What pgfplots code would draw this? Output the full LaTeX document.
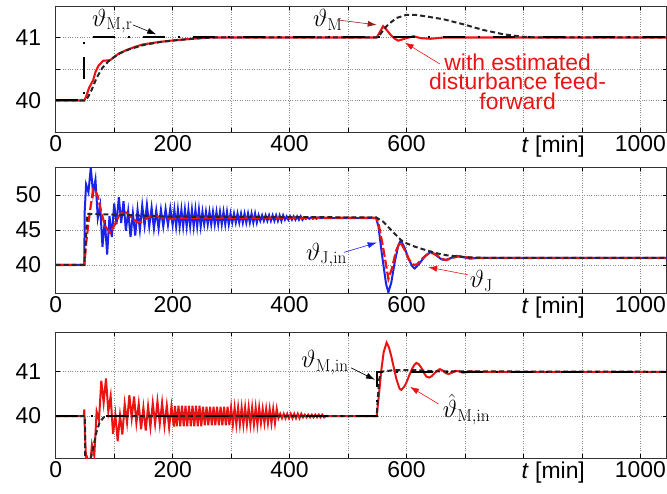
\documentclass[border=0pt]{standalone}
\usepackage[no-math]{fontspec}
\setmainfont{Liberation Sans}
\usepackage{pgfplots}
\pgfplotsset{compat=1.18}
\usetikzlibrary{arrows.meta}

\definecolor{myred}{RGB}{235,20,20}
\definecolor{myblue}{RGB}{25,35,235}
\definecolor{darkred}{RGB}{150,30,30}
\definecolor{gridgray}{RGB}{140,140,140}

\pgfplotsset{
  every axis/.append style={
    scale only axis, width=611bp, height=126bp,
    xmin=0, xmax=1045,
    xtick={0,100,...,1000},
    xticklabels={0,,200,,400,,600,,,,1000},
    extra x ticks={851}, extra x tick labels={\textit{t} [min]},
    extra x tick style={grid=none, major tick length=0pt},
    grid=major, major grid style={gridgray, dotted, line width=0.8bp},
    tick style={black, line width=0.6bp}, major tick length=4bp,
    axis line style={line width=0.8bp, black!80},
    tick label style={font=\fontsize{23}{26}\selectfont},
    /pgf/number format/assume math mode=true,
    yticklabel style={xshift=-11bp},
    anchor=south west,
  },
}
\tikzset{
  lab/.style={anchor=base west, inner sep=0pt, font=\fontsize{24}{28}\selectfont},
  arr/.style={line width=0.6bp, -{Latex[length=9bp,width=6bp]}},
  dashdot/.style={black, line width=2bp, dash pattern=on 22bp off 13bp on 2bp off 13bp},
  bdash/.style={black!85, line width=2bp, dash pattern=on 5bp off 3bp},
}

\begin{document}
\begin{tikzpicture}

% ---------------- top: theta_M ----------------
\begin{axis}[at={(0,326bp)}, ymin=39.5, ymax=41.5,
  ytick={40,40.5,41}, yticklabels={40,,41}]
\addplot[myred, line width=2.1bp] coordinates {
(0,40) (49,40) (52,40.06) (57,40.2) (64,40.32) (68,40.45) (73,40.55) (81,40.63) (93,40.64)
(107,40.74) (121,40.8) (135,40.85) (149,40.89) (178,40.93) (207,40.96) (235,40.98) (260,41)
(549,41) (554,41.08) (560,41.18) (566,41.12) (573,41.04) (580,40.98) (586,40.95) (593,40.97)
(600,40.99) (612,41.02) (624,40.99) (641,40.98) (664,41.0) (1045,41)};
\addplot[bdash] coordinates {
(0,40) (49,40) (55,40.05) (62,40.18) (70,40.36) (80,40.52) (90,40.62) (100,40.69) (110,40.75)
(125,40.81) (150,40.88) (180,40.93) (210,40.96) (240,40.985) (270,41) (549,41) (555,41.05)
(562,41.14) (569,41.21) (583,41.31) (600,41.36) (615,41.36) (630,41.34) (663,41.29) (697,41.21)
(731,41.12) (766,41.05) (800,41.01) (830,41) (1045,41)};
\addplot[dashdot] coordinates {(0,40) (49,40) (49,41) (1045,41)};
\node[lab] at (axis cs:62,41.18) {$\vartheta_{\mathrm{M,r}}$};
\draw[arr] (axis cs:132,41.2) -- (axis cs:172,41.05);
\node[lab] at (axis cs:440,41.17) {$\vartheta_{\mathrm{M}}$};
\draw[arr, darkred] (axis cs:481,41.28) -- (axis cs:549,41.2);
\draw[arr, myred] (axis cs:657,40.58) -- (axis cs:597,40.92);
\node[myred, align=center, anchor=north, inner sep=0pt,
  font=\fontsize{23}{20}\selectfont] at (axis cs:790,40.75)
  {with estimated\\disturbance feed-\\forward};
\end{axis}

% ---------------- middle: theta_J ----------------
\begin{axis}[at={(0,165bp)}, ymin=36, ymax=54,
  ytick={40,45,50}, yticklabels={40,45,50}]
\addplot[myblue, line width=2bp] coordinates {
(0,40) (49,40) (49.5,47.5) (52,51.5) (56,50.4) (60,53.9) (64,50.2) (68,52.2) (72,46.7) (76,48.5)
(80,42.6) (84,46.4) (88,41.5) (92,47.0) (96,44.0) (100,48.8) (104,45.8) (108,49.7) (112,46.0)
(116,49.1) (120,44.9) (124,47.7) (128,44.0) (132,47.4) (136,44.2) (140,47.9) (144,45.0)
(148,48.5) (152,45.6) (156,48.6) (160,45.5) (164,48.2) (168,45.2) (172,47.8) (176,45.2)
(180,47.9) (184,45.5) (188,48.0) (192,45.7) (196,48.1) (200,45.7)
(203,47.9) (206,45.5) (209,47.9) (212,45.5) (215,47.9) (218,45.5) (221,47.9) (224,45.5)
(227,47.9) (230,45.5) (233,47.9) (236,45.5) (239,47.9) (242,45.5) (245,47.9) (248,45.5)
(251,47.6) (254,45.8) (257,47.6) (260,45.8) (263,47.6) (266,45.8) (269,47.6) (272,45.8)
(275,47.6) (278,45.8) (281,47.6) (284,45.8) (287,47.6) (290,45.8) (293,47.6) (296,45.8)
(299,47.35) (302,46.05) (305,47.35) (308,46.05) (311,47.35) (314,46.05) (317,47.35) (320,46.05)
(323,47.35) (326,46.05) (329,47.35) (332,46.05) (335,47.35) (338,46.05) (341,47.35) (344,46.05)
(347,47.1) (350,46.3) (353,47.1) (356,46.3) (359,47.1) (362,46.3) (365,47.1) (368,46.3)
(371,47.1) (374,46.3) (377,47.1) (380,46.3) (383,47.1) (386,46.3) (389,47.1)
(392,46.45) (395,46.95) (398,46.45) (401,46.95) (404,46.45) (407,46.95) (410,46.45) (413,46.95)
(416,46.45) (419,46.95) (422,46.45)
(425,46.8) (428,46.6) (431,46.8) (434,46.6) (437,46.8) (440,46.6) (443,46.8) (446,46.6)
(449,46.8) (452,46.7)
(548,46.7) (552,45.5) (558,41.5) (565,37.3) (569,36.1) (574,37.5) (580,40.5) (586,42.8)
(590,43.5) (596,42.6) (604,40.8) (610,39.8) (614,39.5) (622,40.2) (632,41.3) (642,41.9)
(652,41.3) (660,40.8) (666,40.7) (676,41.0) (686,41.3) (698,41.1) (709,40.9) (720,41.0) (1045,41.0)};
\addplot[myred, line width=2.2bp, dash pattern=on 9bp off 3bp] coordinates {
(0,40) (49,40) (52,43) (56,46) (60,48.5) (64,50.8) (68,50.6) (72,49.8) (78,47.5) (85,45.5)
(93,44.6) (100,45.6) (108,47.0) (116,47.7) (124,47.3) (132,46.6) (140,46.1) (148,46.2)
(156,46.7) (164,47.0) (172,47.0) (185,46.7) (200,46.6) (220,46.75) (548,46.75) (552,46)
(560,42.5) (569,38) (575,39.5) (582,42) (589,43.3) (596,42.3) (604,40.8) (612,40.0) (618,40.1)
(628,41.0) (640,41.8) (650,41.5) (660,40.9) (668,40.7) (678,41.0) (690,41.25) (702,41.1)
(715,41.0) (1045,41.0)};
\addplot[bdash] coordinates {
(0,40) (49,40) (51,43) (54,47.3) (100,47.2) (200,46.9) (548,46.8) (560,46.2) (577,44.7)
(594,43.3) (615,42.6) (634,42.1) (650,41.7) (668,41.4) (690,41.2) (710,41.08) (740,41.02) (1045,41)};
\node[lab] at (axis cs:428,40.7) {$\vartheta_{\mathrm{J,in}}$};
\draw[arr, myblue] (axis cs:493,41.8) -- (axis cs:549,43.2);
\node[lab] at (axis cs:708,36.76) {$\vartheta_{\mathrm{J}}$};
\draw[arr, myred] (axis cs:705,38.6) -- (axis cs:637,39.7);
\end{axis}

% ---------------- bottom: theta_M,in ----------------
\begin{axis}[at={(0,0)}, ymin=39.05, ymax=41.9,
  ytick={40,41}, yticklabels={40,41}]
\addplot[myred, line width=2bp] coordinates {
(0,40) (48,40) (49,40.15) (50,39.6) (52,39.0)
(54,39.05) (58,38.75) (62,39.35) (66,39.1) (70,40.1) (74,39.9) (78,40.8) (82,40.3) (86,40.85)
(90,40.1) (94,40.45) (98,39.6) (102,40.03) (106,39.43) (110,40.02) (114,39.58) (118,40.27)
(122,39.85) (126,40.47) (130,39.95) (134,40.44) (138,39.84) (142,40.28) (146,39.7) (150,40.19)
(154,39.67) (158,40.22) (162,39.75) (166,40.29) (170,39.82) (174,40.33) (178,39.82) (182,40.3)
(186,39.78) (190,40.24) (194,39.74) (198,40.22) (202,39.76)
(204,40.23) (207,39.77) (210,40.23) (213,39.77) (216,40.23) (219,39.77) (222,40.23) (225,39.77)
(228,40.23) (231,39.77) (234,40.23) (237,39.77) (240,40.23) (243,39.77) (246,40.23) (249,39.77)
(252,40.21) (255,39.79) (258,40.21) (261,39.79) (264,40.21) (267,39.79) (270,40.21) (273,39.79)
(276,40.21) (279,39.79) (282,40.21) (285,39.79) (288,40.21) (291,39.79) (294,40.21) (297,39.79)
(300,40.19) (303,39.81) (306,40.19) (309,39.81) (312,40.19) (315,39.81) (318,40.19) (321,39.81)
(324,40.19) (327,39.81) (330,40.19) (333,39.81) (336,40.19) (339,39.81) (342,40.19) (345,39.81)
(348,40.19) (351,39.84) (354,40.16) (357,39.84) (360,40.16) (363,39.84) (366,40.16) (369,39.84)
(372,40.16) (375,39.84) (378,40.16)
(381,39.95) (384,40.05) (387,39.95) (390,40.05) (393,39.95) (396,40.05) (399,39.95) (402,40.05)
(405,39.95) (408,40.05) (411,39.95) (414,40.05) (417,39.95) (420,40.05)
(423,39.97) (426,40.03) (429,39.97) (432,40.03) (435,39.97) (438,40.03) (441,39.97) (444,40.03)
(447,39.97) (450,40.03) (453,39.97) (456,40.03) (459,39.97) (462,40)
(549,40) (553,40.5) (557,41.05) (561,41.45) (566,41.66) (570,41.55) (574,41.35) (579,41.05)
(583,40.82) (588,40.62) (591,40.59) (596,40.66) (600,40.76) (605,40.93) (609,41.05) (613,41.15)
(617,41.2) (621,41.17) (626,41.08) (630,40.97) (634,40.89) (639,40.87) (643,40.9) (648,40.97)
(652,41.02) (657,41.06) (662,41.03) (667,40.97) (672,40.95) (678,40.98) (684,41.02) (690,41.01)
(696,40.98) (703,40.99) (710,41.01) (720,41) (1045,41)};
\addplot[bdash] coordinates {
(0,40) (50,40) (50.5,38.9) (57,38.9) (62,39.15) (66,39.4) (70,39.65) (75,39.85) (82,39.97)
(90,40) (549,40) (550,40.2) (553,40.8) (556,41.0) (580,41.04) (610,41.04) (650,41.01) (1045,41)};
\addplot[dashdot] coordinates {(0,40) (549,40) (549,41) (1045,41)};
\node[lab] at (axis cs:420,41.09) {$\vartheta_{\mathrm{M,in}}$};
\draw[arr] (axis cs:505,41.09) -- (axis cs:546,40.82);
\node[lab] at (axis cs:662,39.96) {$\hat{\vartheta}_{\mathrm{M,in}}$};
\draw[arr, myred] (axis cs:655,40.27) -- (axis cs:606,40.66);
\end{axis}

\pgfresetboundingbox
\useasboundingbox (-55.7bp,-36bp) rectangle (611.3bp,458bp);
\end{tikzpicture}
\end{document}
